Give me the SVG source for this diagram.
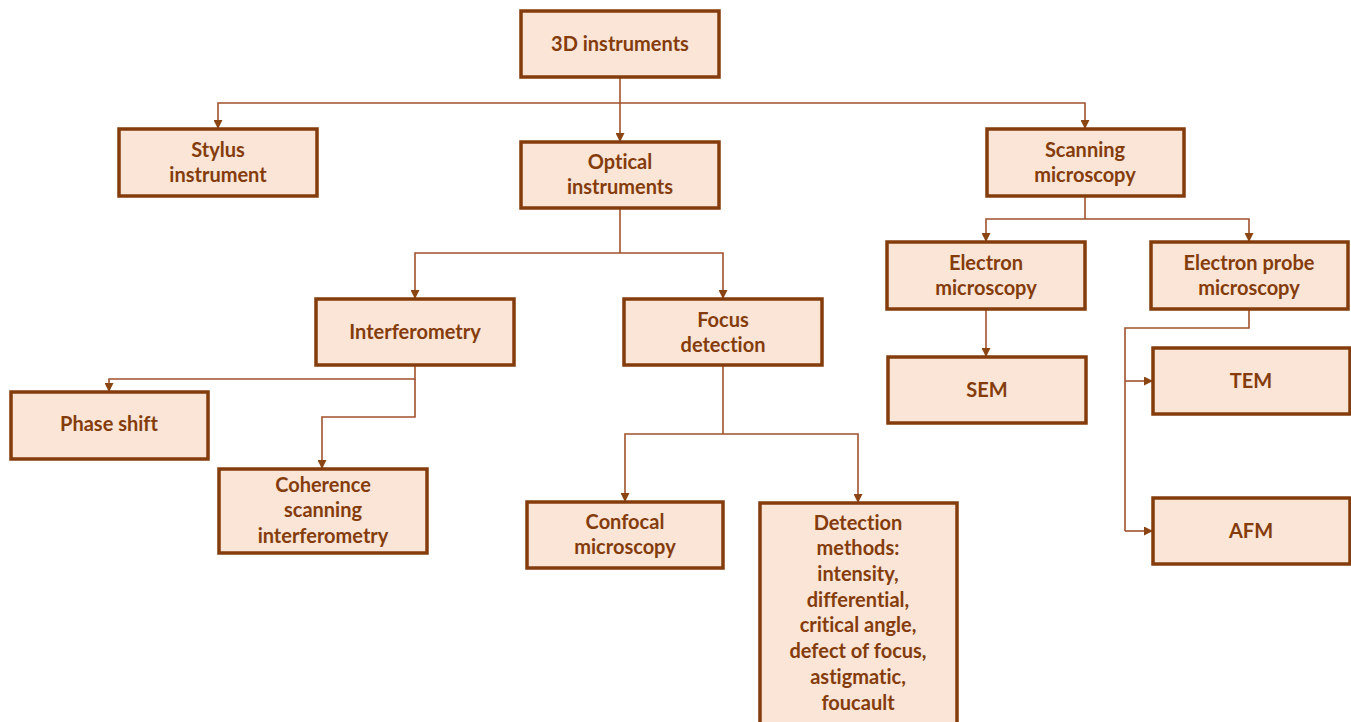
<svg xmlns="http://www.w3.org/2000/svg" width="1351" height="722" viewBox="0 0 1351 722">
  <defs>
    <marker id="arrow" viewBox="0 0 10 10" refX="10" refY="5" markerWidth="9" markerHeight="9" markerUnits="userSpaceOnUse" orient="auto">
      <path d="M0,0 L10,5 L0,10 Z" fill="#8B4513"/>
    </marker>
    <style>
      .box { fill: #FBE5D6; stroke: #843C0C; stroke-width: 3.5; }
      .lbl { font-family: Lato, "Open Sans", "Liberation Sans", sans-serif; font-weight: bold; font-size: 20px; fill: #843C0C; text-anchor: middle; font-variant-ligatures: none; }
      .con { fill: none; stroke: #A0522D; stroke-width: 1.6; }
      .arr { marker-end: url(#arrow); }
    </style>
  </defs>
  <rect width="1351" height="722" fill="#FFFFFF"/>

  <g id="connectors">
    <!-- root to first level -->
    <path class="con" d="M620,77 V103"/>
    <path class="con arr" d="M620,103 H218 V129"/>
    <path class="con arr" d="M620,103 V142"/>
    <path class="con arr" d="M620,103 H1085 V129"/>
    <!-- optical branch -->
    <path class="con" d="M620,208 V253"/>
    <path class="con arr" d="M620,253 H415 V299"/>
    <path class="con arr" d="M620,253 H723 V299"/>
    <!-- interferometry branch -->
    <path class="con arr" d="M415,365 V379 H109 V392"/>
    <path class="con arr" d="M415,379 V417 H322 V469"/>
    <!-- focus detection branch -->
    <path class="con" d="M723,365 V434"/>
    <path class="con arr" d="M723,434 H625 V502"/>
    <path class="con arr" d="M723,434 H858 V503"/>
    <!-- scanning microscopy branch -->
    <path class="con" d="M1085,196 V219"/>
    <path class="con arr" d="M1085,219 H986 V242"/>
    <path class="con arr" d="M1085,219 H1249 V242"/>
    <!-- electron microscopy to SEM -->
    <path class="con arr" d="M986,309 V357"/>
    <!-- electron probe microscopy -->
    <path class="con" d="M1249,309 V328 H1125 V531"/>
    <path class="con arr" d="M1125,381 H1153"/>
    <path class="con arr" d="M1125,531 H1153"/>
  </g>

  <g id="n-3d">
    <rect class="box" x="521" y="11" width="198" height="66"/>
    <text class="lbl" x="620" y="51">3D instruments</text>
  </g>
  <g id="n-stylus">
    <rect class="box" x="119" y="129" width="198" height="67"/>
    <text class="lbl" x="218" y="157">Stylus</text>
    <text class="lbl" x="218" y="182">instrument</text>
  </g>
  <g id="n-optical">
    <rect class="box" x="521" y="142" width="198" height="66"/>
    <text class="lbl" x="620" y="169">Optical</text>
    <text class="lbl" x="620" y="194">instruments</text>
  </g>
  <g id="n-scanning">
    <rect class="box" x="987" y="129" width="197" height="67"/>
    <text class="lbl" x="1085" y="157">Scanning</text>
    <text class="lbl" x="1085" y="182">microscopy</text>
  </g>
  <g id="n-interferometry">
    <rect class="box" x="316" y="299" width="198" height="66"/>
    <text class="lbl" x="415" y="339">Interferometry</text>
  </g>
  <g id="n-focus">
    <rect class="box" x="624" y="299" width="198" height="66"/>
    <text class="lbl" x="723" y="327">Focus</text>
    <text class="lbl" x="723" y="352">detection</text>
  </g>
  <g id="n-electron">
    <rect class="box" x="887" y="242" width="198" height="67"/>
    <text class="lbl" x="986" y="270">Electron</text>
    <text class="lbl" x="986" y="295">microscopy</text>
  </g>
  <g id="n-probe">
    <rect class="box" x="1151" y="242" width="197" height="67"/>
    <text class="lbl" x="1249" y="270">Electron probe</text>
    <text class="lbl" x="1249" y="295">microscopy</text>
  </g>
  <g id="n-phase">
    <rect class="box" x="11" y="392" width="197" height="67"/>
    <text class="lbl" x="109" y="431">Phase shift</text>
  </g>
  <g id="n-coherence">
    <rect class="box" x="219" y="469" width="208" height="84"/>
    <text class="lbl" x="323" y="492">Coherence</text>
    <text class="lbl" x="323" y="517">scanning</text>
    <text class="lbl" x="323" y="543">interferometry</text>
  </g>
  <g id="n-confocal">
    <rect class="box" x="527" y="502" width="196" height="66"/>
    <text class="lbl" x="625" y="529">Confocal</text>
    <text class="lbl" x="625" y="554">microscopy</text>
  </g>
  <g id="n-detection">
    <rect class="box" x="760" y="503" width="197" height="225"/>
    <text class="lbl" x="858" y="530">Detection</text>
    <text class="lbl" x="858" y="555">methods:</text>
    <text class="lbl" x="858" y="581">intensity,</text>
    <text class="lbl" x="858" y="607">differential,</text>
    <text class="lbl" x="858" y="632">critical angle,</text>
    <text class="lbl" x="858" y="658">defect of focus,</text>
    <text class="lbl" x="858" y="684">astigmatic,</text>
    <text class="lbl" x="858" y="710">foucault</text>
  </g>
  <g id="n-sem">
    <rect class="box" x="888" y="357" width="198" height="66"/>
    <text class="lbl" x="987" y="397">SEM</text>
  </g>
  <g id="n-tem">
    <rect class="box" x="1153" y="348" width="197" height="66"/>
    <text class="lbl" x="1251" y="388">TEM</text>
  </g>
  <g id="n-afm">
    <rect class="box" x="1153" y="498" width="197" height="66"/>
    <text class="lbl" x="1251" y="538">AFM</text>
  </g>
</svg>
